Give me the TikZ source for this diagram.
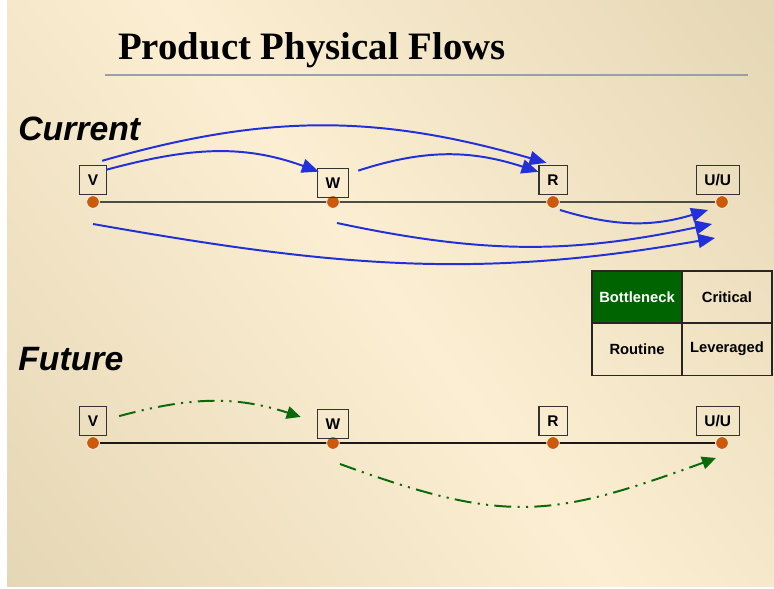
\documentclass[tikz,border=0pt]{standalone}
\usepackage{fontspec}
\setmainfont{Liberation Sans}
\newfontfamily\titlefont{Liberation Serif}
\usetikzlibrary{positioning,arrows.meta}

\definecolor{flowblue}{HTML}{2230DA}
\definecolor{flowgreen}{HTML}{0A6A0A}
\definecolor{dotorange}{HTML}{CC5A0A}
\definecolor{bggold}{HTML}{DACDA8}
\definecolor{bgcream}{HTML}{FCEED2}
\definecolor{rulegray}{HTML}{98A0A8}
\definecolor{bottlegreen}{HTML}{006400}

\begin{document}
\begin{tikzpicture}[x=0.025cm,y=0.025cm,
	pt/.style={circle,inner sep=0pt,minimum size=9pt},
	box/.style={draw=black!80,line width=0.75pt,font=\bfseries\fontsize{11}{13}\selectfont,inner xsep=6pt,inner ysep=0pt,minimum height=21pt,text height=8pt,text depth=0pt},
	cell/.style={draw=black!85,line width=0.75pt,outer sep=0pt,minimum width=64pt,minimum height=37pt,font=\bfseries\fontsize{10.5}{12}\selectfont},
	flow/.style={flowblue,line width=1.4pt,-{Triangle[length=12pt,width=10pt]}},
	plan/.style={flowgreen,line width=1.4pt,dash pattern=on 12pt off 4.5pt on 1.5pt off 4.5pt on 1.5pt off 4.5pt,-{Triangle[length=10pt,width=9pt]}},
	row/.style={font=\bfseries\itshape\fontsize{24}{28}\selectfont,anchor=base west,inner sep=0pt}]

	\useasboundingbox (0,0) rectangle (774,588);
	\fill[white] (0,0) rectangle (774,588);
	\begin{scope}
		\clip (7,2) rectangle (774,588);
		\shade[left color=bggold,right color=bggold,middle color=bgcream,shading angle=-53] (-310,-405) rectangle (1090,995);
	\end{scope}

	\node[anchor=base west,inner sep=0pt,font=\titlefont\bfseries\fontsize{27.6}{30}\selectfont] (title) at (118,528) {Product Physical Flows};
	\draw[rulegray,line width=1.2pt] (105,513) -- (748,513);

	\node[row] (cur) at (18,448) {Current};
	\node[row] (fut) at (18,218) {Future};

	\node[pt] (c1) at ( 93,386) {};
	\node[pt] (c2) at (333,386) {};
	\node[pt] (c3) at (553,386) {};
	\node[pt] (c4) at (722,386) {};

	\node[pt] (f1) at ( 93,145) {};
	\node[pt] (f2) at (333,145) {};
	\node[pt] (f3) at (553,145) {};
	\node[pt] (f4) at (722,145) {};

	\draw[line width=0.8pt,black!70] (c1) -- (c4);
	\draw[line width=0.8pt,black!90] (f1) -- (f4);
	\foreach \d in {c1,c2,c3,c4,f1,f2,f3,f4}
		\filldraw[fill=dotorange,draw=white,line width=0.5pt] (\d) circle (4.5pt);

	\node[box,above=0pt of c1] (cv) {V};
	\node[box,above=-2pt of c2] (cw) {W};
	\node[box,above=0pt of c3] (cr) {R};
	\node[box,above=0pt of c4,xshift=-3pt] (cu) {U/U};

	\node[box,above=0pt of f1] (fv) {V};
	\node[box,above=-2pt of f2] (fw) {W};
	\node[box,above=0pt of f3] (fr) {R};
	\node[box,above=0pt of f4,xshift=-3pt] (fu) {U/U};

	\node[cell,fill=bottlegreen,text=white] (bneck) at (637,291) {Bottleneck};
	\node[cell,right=0pt of bneck] (crit) {Critical};
	\node[cell,below=0pt of bneck] (rout) {Routine};
	\node[cell,right=0pt of rout] (lev) {Leveraged};

	\draw[flow] ([shift={(-5,4)}]cv.north east) to[out=16,in=164] ([shift={(8,2)}]cr.north west);
	\draw[flow] ([shift={(-1,-5)}]cv.north east) to[out=15,in=160] ([shift={(2,-4)}]cw.north west);
	\draw[flow] ([shift={(9,-3)}]cw.north east) to[out=18,in=162] ([shift={(0,-7)}]cr.north west);
	\draw[flow] ([shift={(7,-8)}]c3.center) to[out=-17,in=197] ([shift={(-14,-8)}]c4.center);
	\draw[flow] ([shift={(4,-21)}]c2.center) to[out=-12,in=192] ([shift={(-10,-22)}]c4.center);
	\draw[flow] ([shift={(0,-22)}]c1.center) to[out=-10,in=190] ([shift={(-7,-36)}]c4.center);

	\draw[plan] ([shift={(12,5)}]fv.east) to[out=15,in=162] ([shift={(-16,7)}]fw.west);
	\draw[plan] ([shift={(7,-21)}]f2.center) to[out=-20,in=200,looseness=1.2] ([shift={(-6,-15)}]f4.center);

\end{tikzpicture}
\end{document}
